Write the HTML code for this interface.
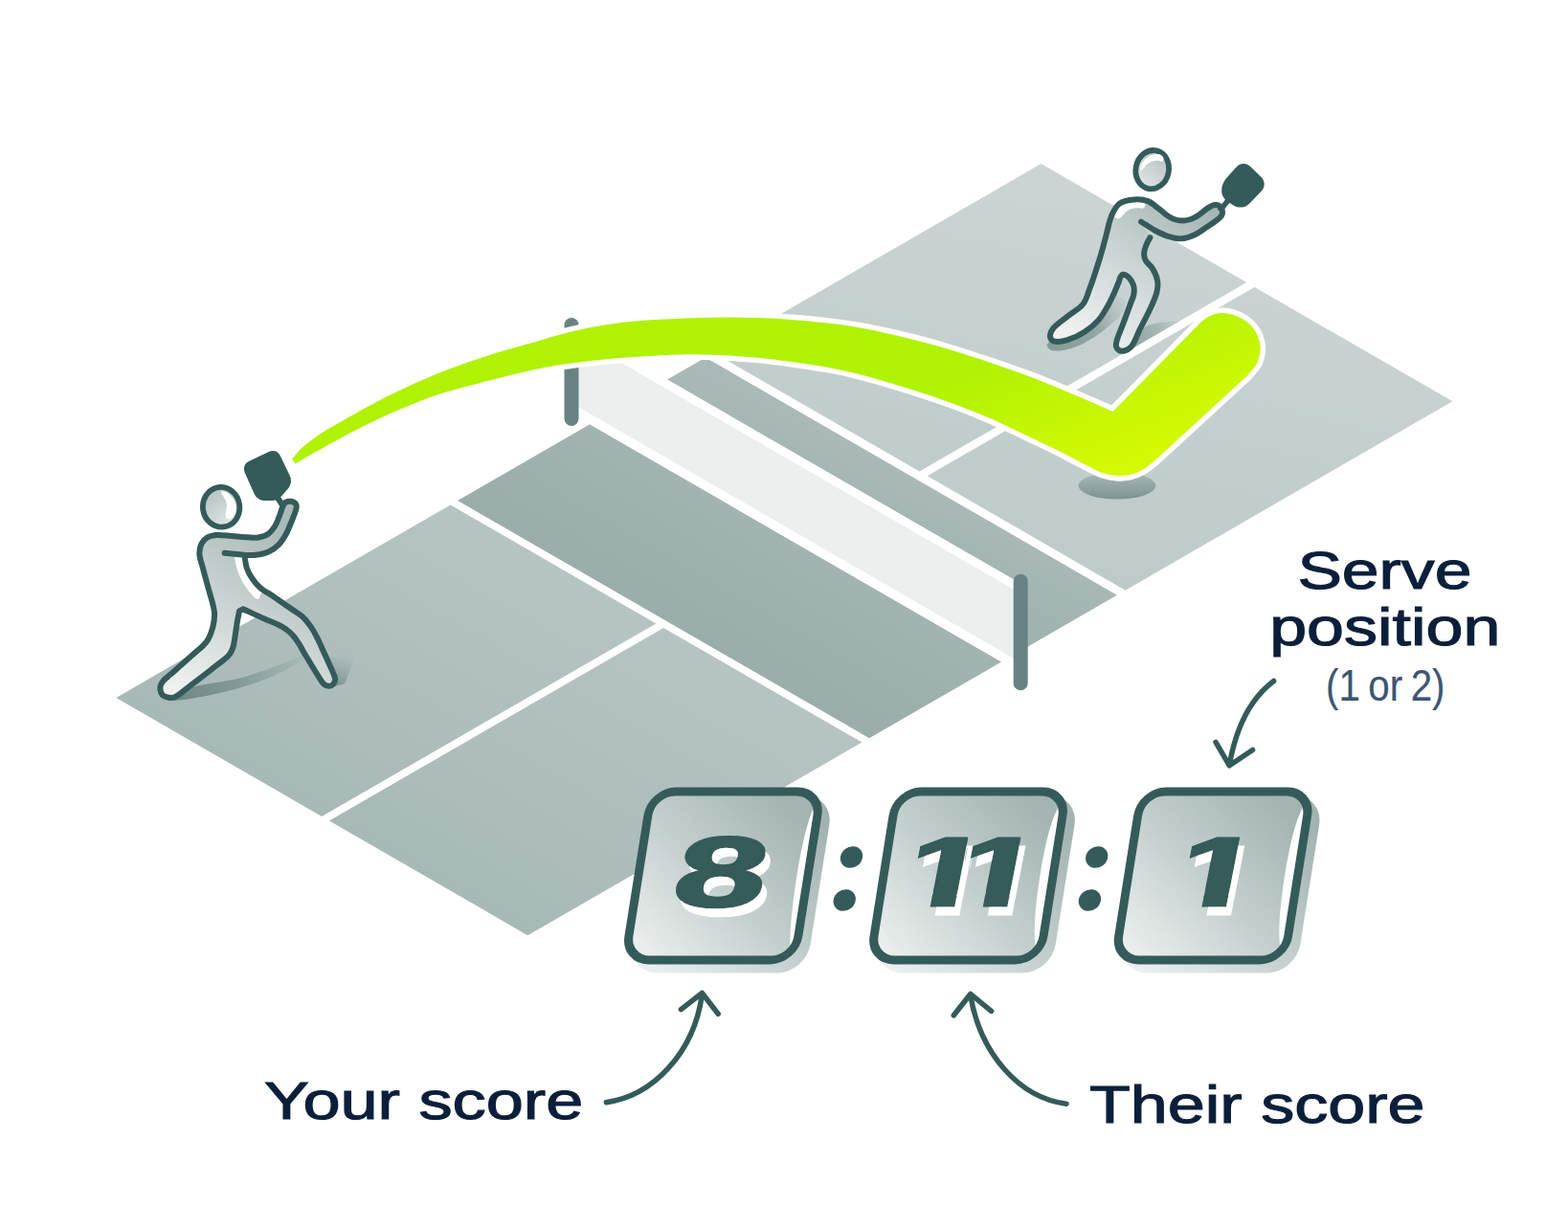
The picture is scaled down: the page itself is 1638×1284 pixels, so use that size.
<!DOCTYPE html>
<html lang="en"><head><meta charset="utf-8"><title>Pickleball scoring</title>
<style>html,body{margin:0;padding:0;background:#fff}svg{display:block}text{font-kerning:normal}</style></head>
<body>
<svg width="1638" height="1284" viewBox="0 0 1638 1284">
<rect width="1638" height="1284" fill="#fff"/>
<defs>
<linearGradient id="gNear" gradientUnits="userSpaceOnUse" x1="560" y1="480" x2="330" y2="880"><stop offset="0" stop-color="#b9c7c5"/><stop offset="1" stop-color="#a6b8b6"/></linearGradient>
<linearGradient id="gKit" gradientUnits="userSpaceOnUse" x1="860" y1="500" x2="720" y2="740"><stop offset="0" stop-color="#a6b7b4"/><stop offset="1" stop-color="#97aaa8"/></linearGradient>
<linearGradient id="gFarKit" gradientUnits="userSpaceOnUse" x1="960" y1="440" x2="900" y2="560"><stop offset="0" stop-color="#adbdbb"/><stop offset="1" stop-color="#a1b3b0"/></linearGradient>
<linearGradient id="gFar" gradientUnits="userSpaceOnUse" x1="1200" y1="180" x2="1100" y2="620"><stop offset="0" stop-color="#ccd5d4"/><stop offset="1" stop-color="#bccac8"/></linearGradient>
<linearGradient id="gArc" gradientUnits="userSpaceOnUse" x1="1100" y1="354.4" x2="1152.5" y2="490.8"><stop offset="0" stop-color="#b0f203"/><stop offset="1" stop-color="#d4f903"/></linearGradient>
<linearGradient id="gBody" gradientUnits="userSpaceOnUse" x1="290" y1="540" x2="190" y2="720"><stop offset="0" stop-color="#a9b9b7"/><stop offset="0.5" stop-color="#c9d3d1"/><stop offset="1" stop-color="#eef1f0"/></linearGradient>
<linearGradient id="gHead" gradientUnits="userSpaceOnUse" x1="220" y1="512" x2="242" y2="550"><stop offset="0" stop-color="#b4c3c1"/><stop offset="1" stop-color="#e4e9e8"/></linearGradient>
<linearGradient id="gBody2" gradientUnits="userSpaceOnUse" x1="1240" y1="200" x2="1130" y2="360"><stop offset="0" stop-color="#a4b5b3"/><stop offset="0.5" stop-color="#cdd6d5"/><stop offset="1" stop-color="#f0f2f2"/></linearGradient>
<linearGradient id="gHead2" gradientUnits="userSpaceOnUse" x1="1214" y1="160" x2="1192" y2="198"><stop offset="0" stop-color="#b4c3c1"/><stop offset="1" stop-color="#e4e9e8"/></linearGradient>
<linearGradient id="gBox" x1="0.85" y1="0.1" x2="0.1" y2="0.95"><stop offset="0" stop-color="#a3b4b1"/><stop offset="0.5" stop-color="#c3cfcd"/><stop offset="1" stop-color="#eaeeed"/></linearGradient>
<linearGradient id="gBoxSh" x1="0.9" y1="0.1" x2="0.1" y2="0.95"><stop offset="0" stop-color="#a2b3b1"/><stop offset="0.5" stop-color="#c5d0ce"/><stop offset="1" stop-color="#ebefee"/></linearGradient>
<linearGradient id="gBall" x1="0" y1="0" x2="0" y2="1"><stop offset="0" stop-color="#a9b9b7"/><stop offset="1" stop-color="#7d9391"/></linearGradient>
<linearGradient id="gSh1" gradientUnits="userSpaceOnUse" x1="185" y1="732" x2="322" y2="682"><stop offset="0" stop-color="#6f8785"/><stop offset="0.45" stop-color="#7d9391" stop-opacity="0.85"/><stop offset="1" stop-color="#8ea2a0" stop-opacity="0.15"/></linearGradient>
<linearGradient id="gSh1b" gradientUnits="userSpaceOnUse" x1="350" y1="720" x2="362" y2="683"><stop offset="0" stop-color="#78908d"/><stop offset="1" stop-color="#8ea2a0" stop-opacity="0"/></linearGradient>
<linearGradient id="gSh2" gradientUnits="userSpaceOnUse" x1="1100" y1="364" x2="1182" y2="316"><stop offset="0" stop-color="#869c99"/><stop offset="0.55" stop-color="#93a7a5"/><stop offset="1" stop-color="#b9c6c4" stop-opacity="0.2"/></linearGradient>
<linearGradient id="gSh2b" gradientUnits="userSpaceOnUse" x1="1182" y1="366" x2="1246" y2="334"><stop offset="0" stop-color="#8da19f"/><stop offset="0.5" stop-color="#a3b4b2" stop-opacity="0.9"/><stop offset="1" stop-color="#c0cbca" stop-opacity="0"/></linearGradient>
<clipPath id="clip1a"><path d="M10,-80 H40.2 V-16 H39.3 V2 H23.8 V-16 H10 Z"/></clipPath>
<clipPath id="clip1b"><path d="M10,-80 H40.2 V-16 H39.3 V2 H23.8 V-16 H10 Z M43.4,-80 H73.6 V-16 H72.7 V2 H57.2 V-16 H43.4 Z"/></clipPath>
<clipPath id="clipFarA"><polygon points="745.7,368.5 1087.5,171.1 1302.3,295.1 960.5,492.5"/></clipPath>
<clipPath id="clipNearA"><polygon points="121.3,729.0 470.6,527.4 685.3,651.4 336.1,853.0"/></clipPath>
<filter id="blur2" x="-20%" y="-20%" width="140%" height="140%"><feGaussianBlur stdDeviation="0.7"/></filter>
<filter id="blur3" x="-30%" y="-10%" width="160%" height="120%"><feGaussianBlur stdDeviation="0.5"/></filter>
<filter id="ds" filterUnits="userSpaceOnUse" x="640" y="800" width="760" height="240"><feFlood flood-color="#fff"/><feComposite in2="SourceAlpha" operator="in"/><feOffset dx="5.3" dy="9.3" result="sh"/><feMerge><feMergeNode in="sh"/><feMergeNode in="SourceGraphic"/></feMerge></filter>
<filter id="blur1" x="-20%" y="-20%" width="140%" height="140%"><feGaussianBlur stdDeviation="1.2"/></filter>
</defs>
<polygon points="121.3,729.0 470.6,527.4 685.3,651.4 336.1,853.0" fill="url(#gNear)"/>
<polygon points="343.9,857.5 693.1,655.9 900.5,775.6 551.3,977.2" fill="url(#gNear)"/>
<polygon points="478.1,523.0 616.2,443.2 1046.2,691.5 908.1,771.2" fill="url(#gKit)"/>
<polygon points="636.6,431.5 737.0,373.5 1166.9,621.7 1066.5,679.7" fill="url(#gFarKit)"/>
<polygon points="745.7,368.5 1087.5,171.1 1302.3,295.1 960.5,492.5" fill="url(#gFar)"/>
<polygon points="968.7,497.2 1310.5,299.9 1517.4,419.3 1175.6,616.7" fill="url(#gFar)"/>
<polygon points="585.0,425.2 1066.2,703.0 1066.2,609.5 585.0,331.7" fill="#fff"/>
<polygon points="597.0,421.1 1066.2,692.0 1066.2,620.0 597.0,349.1" fill="#ebefee"/>
<line x1="597" y1="339.5" x2="597" y2="437.5" stroke="#678381" stroke-width="15" stroke-linecap="round"/>
<line x1="1066.2" y1="607.3" x2="1066.2" y2="713.8" stroke="#678381" stroke-width="15" stroke-linecap="round"/>
<ellipse cx="1167" cy="507.5" rx="40.5" ry="14" fill="url(#gBall)"/>
<g clip-path="url(#clipNearA)">
<path d="M176.0,724.0 C186.3,721.5 195.8,718.7 206.9,716.4 C219.6,713.7 234.1,712.6 247.9,709.1 C262.4,705.4 278.8,699.3 291.9,694.4 C302.7,690.4 311.3,686.5 321.0,682.5 L321.0,683.5 C316.2,687.4 312.4,691.4 306.5,695.2 C298.6,700.2 288.2,705.5 277.2,709.8 C264.2,714.9 248.4,719.4 233.3,723.0 C217.7,726.8 195.9,731.1 184.9,731.8 C179.3,732.1 176.3,731.3 172.0,731.0 Z" fill="url(#gSh1)" filter="url(#blur2)"/>
<path d="M340,719 L346,686 L351,687.5 L373.5,680.5 L360,714.5 Z" fill="url(#gSh1b)" filter="url(#blur2)"/>
</g>
<path d="M234.6,577.7 C241.4,578.4 248.3,579.1 255.1,579.8 C259.1,579.8 263.1,580.3 267.1,579.8 C271.3,579.3 276.0,578.6 280.0,576.8 C284.0,575.0 288.0,572.2 291.1,569.1 C294.2,566.0 296.6,562.0 298.8,558.0 C301.2,553.8 303.0,548.9 304.8,544.3 C306.5,539.9 309.0,534.3 309.5,531.1 C309.8,529.4 310.0,528.1 309.3,527.0 C308.5,525.6 305.9,524.2 304.0,523.8 C302.2,523.5 299.9,523.9 298.5,524.7 C297.3,525.4 296.6,526.5 295.8,528.0 C294.5,530.4 293.7,534.5 292.3,538.0 C290.8,541.8 289.2,546.5 287.0,550.0 C285.0,553.1 282.8,556.1 280.0,558.0 C277.2,559.9 273.5,560.9 270.0,561.5 C266.2,562.1 262.3,561.5 258.0,561.3 C253.0,561.1 247.3,560.4 242.0,560.0 C236.7,559.6 230.6,558.5 226.0,559.0 C222.4,559.4 219.1,559.9 216.5,561.5 C214.0,563.0 211.9,565.3 210.5,568.0 C209.0,570.9 208.3,574.7 208.4,578.6 C208.5,583.4 210.9,589.2 212.3,594.8 C213.8,600.9 215.7,607.4 217.4,613.7 C219.1,620.0 221.5,627.4 222.6,632.5 C223.4,635.9 224.0,637.9 224.1,641.2 C224.2,645.3 223.4,650.8 222.3,655.3 C221.2,659.7 219.4,664.4 217.4,667.9 C215.8,670.7 213.8,672.8 211.8,674.9 C210.0,676.8 208.5,677.8 206.2,679.8 C202.6,683.0 196.8,688.1 192.1,692.2 C187.4,696.3 182.0,701.2 178.1,704.6 C175.4,707.0 172.9,708.6 171.1,710.7 C169.7,712.3 168.6,713.9 168.0,715.6 C167.4,717.2 167.2,718.9 167.4,720.6 C167.7,722.4 168.3,724.8 169.7,726.2 C171.1,727.6 173.9,728.5 176.0,728.8 C178.1,729.1 180.7,728.8 182.3,728.3 C183.5,728.0 183.9,727.7 185.1,726.9 C188.0,725.1 194.4,719.7 199.1,716.1 C203.8,712.5 208.5,708.9 213.2,705.3 C217.9,701.7 223.3,697.4 227.2,694.4 C229.9,692.3 232.0,690.9 234.2,689.0 C236.3,687.2 238.4,685.5 239.9,683.4 C241.4,681.3 242.5,679.0 243.4,676.3 C244.5,673.1 244.8,669.0 245.5,665.1 C246.2,660.7 246.8,655.6 247.6,651.1 C248.3,646.8 249.2,642.6 250.0,638.4 C251.3,637.7 252.6,637.0 253.9,636.3 C261.4,639.7 269.8,643.7 276.4,646.6 C281.6,648.9 286.4,650.5 290.4,652.5 C293.6,654.1 296.2,655.5 298.8,657.4 C301.4,659.3 303.7,661.2 305.9,663.7 C308.4,666.5 310.8,670.2 312.9,673.5 C315.0,676.7 316.0,679.3 318.5,683.4 C322.8,690.6 333.4,708.5 336.7,712.8 C337.7,714.1 337.9,714.6 338.9,715.2 C340.1,716.0 342.2,716.9 343.8,716.8 C345.3,716.7 347.0,716.0 348.0,715.0 C349.1,713.9 349.9,711.5 350.1,710.0 C350.2,708.8 349.9,708.1 349.4,706.5 C348.0,702.2 342.7,691.2 339.5,684.1 C336.6,677.7 333.9,671.2 331.1,665.8 C328.8,661.3 326.7,657.6 324.1,653.9 C321.6,650.3 318.9,646.9 315.7,644.0 C312.4,641.0 308.4,639.0 304.5,636.3 C300.1,633.2 294.1,629.1 290.4,626.5 C287.9,624.8 286.7,623.9 284.3,622.3 C280.8,619.9 275.1,617.0 271.4,613.7 C268.0,610.6 265.1,607.0 262.8,603.4 C260.6,600.1 258.9,596.8 257.7,593.1 C256.4,589.1 256.1,584.4 255.3,580.0 " fill="url(#gBody)"/>
<path d="M245,581 C245.6,590 249,600.5 254.2,609.2 C257.6,615 262,620.5 266.2,624.6 C269,627 271.6,625.6 271.6,622.5 L274,616 L262,600 L256,581 Z" fill="#fff"/>
<path d="M234.6,577.7 C241.4,578.4 248.3,579.1 255.1,579.8 C259.1,579.8 263.1,580.3 267.1,579.8 C271.3,579.3 276.0,578.6 280.0,576.8 C284.0,575.0 288.0,572.2 291.1,569.1 C294.2,566.0 296.6,562.0 298.8,558.0 C301.2,553.8 303.0,548.9 304.8,544.3 C306.5,539.9 309.0,534.3 309.5,531.1 C309.8,529.4 310.0,528.1 309.3,527.0 C308.5,525.6 305.9,524.2 304.0,523.8 C302.2,523.5 299.9,523.9 298.5,524.7 C297.3,525.4 296.6,526.5 295.8,528.0 C294.5,530.4 293.7,534.5 292.3,538.0 C290.8,541.8 289.2,546.5 287.0,550.0 C285.0,553.1 282.8,556.1 280.0,558.0 C277.2,559.9 273.5,560.9 270.0,561.5 C266.2,562.1 262.3,561.5 258.0,561.3 C253.0,561.1 247.3,560.4 242.0,560.0 C236.7,559.6 230.6,558.5 226.0,559.0 C222.4,559.4 219.1,559.9 216.5,561.5 C214.0,563.0 211.9,565.3 210.5,568.0 C209.0,570.9 208.3,574.7 208.4,578.6 C208.5,583.4 210.9,589.2 212.3,594.8 C213.8,600.9 215.7,607.4 217.4,613.7 C219.1,620.0 221.5,627.4 222.6,632.5 C223.4,635.9 224.0,637.9 224.1,641.2 C224.2,645.3 223.4,650.8 222.3,655.3 C221.2,659.7 219.4,664.4 217.4,667.9 C215.8,670.7 213.8,672.8 211.8,674.9 C210.0,676.8 208.5,677.8 206.2,679.8 C202.6,683.0 196.8,688.1 192.1,692.2 C187.4,696.3 182.0,701.2 178.1,704.6 C175.4,707.0 172.9,708.6 171.1,710.7 C169.7,712.3 168.6,713.9 168.0,715.6 C167.4,717.2 167.2,718.9 167.4,720.6 C167.7,722.4 168.3,724.8 169.7,726.2 C171.1,727.6 173.9,728.5 176.0,728.8 C178.1,729.1 180.7,728.8 182.3,728.3 C183.5,728.0 183.9,727.7 185.1,726.9 C188.0,725.1 194.4,719.7 199.1,716.1 C203.8,712.5 208.5,708.9 213.2,705.3 C217.9,701.7 223.3,697.4 227.2,694.4 C229.9,692.3 232.0,690.9 234.2,689.0 C236.3,687.2 238.4,685.5 239.9,683.4 C241.4,681.3 242.5,679.0 243.4,676.3 C244.5,673.1 244.8,669.0 245.5,665.1 C246.2,660.7 246.8,655.6 247.6,651.1 C248.3,646.8 249.2,642.6 250.0,638.4 C251.3,637.7 252.6,637.0 253.9,636.3 C261.4,639.7 269.8,643.7 276.4,646.6 C281.6,648.9 286.4,650.5 290.4,652.5 C293.6,654.1 296.2,655.5 298.8,657.4 C301.4,659.3 303.7,661.2 305.9,663.7 C308.4,666.5 310.8,670.2 312.9,673.5 C315.0,676.7 316.0,679.3 318.5,683.4 C322.8,690.6 333.4,708.5 336.7,712.8 C337.7,714.1 337.9,714.6 338.9,715.2 C340.1,716.0 342.2,716.9 343.8,716.8 C345.3,716.7 347.0,716.0 348.0,715.0 C349.1,713.9 349.9,711.5 350.1,710.0 C350.2,708.8 349.9,708.1 349.4,706.5 C348.0,702.2 342.7,691.2 339.5,684.1 C336.6,677.7 333.9,671.2 331.1,665.8 C328.8,661.3 326.7,657.6 324.1,653.9 C321.6,650.3 318.9,646.9 315.7,644.0 C312.4,641.0 308.4,639.0 304.5,636.3 C300.1,633.2 294.1,629.1 290.4,626.5 C287.9,624.8 286.7,623.9 284.3,622.3 C280.8,619.9 275.1,617.0 271.4,613.7 C268.0,610.6 265.1,607.0 262.8,603.4 C260.6,600.1 258.9,596.8 257.7,593.1 C256.4,589.1 256.1,584.4 255.3,580.0 " fill="none" stroke="#345b59" stroke-width="6" stroke-linecap="round" stroke-linejoin="round"/>
<ellipse cx="231.1" cy="529.8" rx="19.2" ry="20.9" transform="rotate(-8 231.1 529.8)" fill="url(#gHead)" stroke="#345b59" stroke-width="5.8"/>
<path d="M231,513.5 C236,511.5 246,520 246.5,531 C247,538 243,542 238.5,542.5 C234,540 236,536 237,530 C238,522 231,518 231,513.5 Z" fill="#fff"/>
<path d="M255.8,493.9 C253.7,489.0 255.4,484.1 260.3,481.8 L280.8,472.0 C285.7,469.7 290.5,471.3 292.8,476.2 L302.8,497.1 C304.9,501.4 304.2,506.7 301.1,510.3 L294.0,518.5 C291.7,521.2 287.7,523.0 284.1,523.0 L276.7,523.0 C271.9,523.0 267.4,520.1 265.5,515.7 Z" fill="#345b59"/>
<line x1="290" y1="520" x2="296.5" y2="530" stroke="#345b59" stroke-width="6"/>
<g clip-path="url(#clipFarA)">
<path d="M1093.5,360 C1094,365 1099,367 1105.7,366.5 C1113,366 1120,364 1126.7,361.2 C1135,357.5 1143,352.5 1150.1,347.2 C1157,342 1163,337 1168.8,331.8 L1173.5,324.8 L1177,314 L1161.8,305 L1110,340 Z" fill="url(#gSh2)" filter="url(#blur2)"/>
<path d="M1174,372 L1186,350 C1192,343 1200,339 1208.5,337.5 C1220,335.5 1235,335.5 1252,336 L1190,372 Z" fill="url(#gSh2b)" filter="url(#blur2)"/>
</g>
<path d="M1192.1,231.7 C1196.8,234.6 1201.3,237.9 1206.1,240.5 C1210.7,243.0 1215.3,245.4 1220.1,246.9 C1224.7,248.3 1229.5,249.6 1234.1,249.3 C1238.8,249.0 1243.8,247.2 1248.2,245.2 C1252.7,243.1 1256.9,239.8 1261.0,237.0 C1265.0,234.3 1270.0,231.2 1272.7,228.8 C1274.4,227.3 1275.9,226.2 1276.5,224.5 C1277.1,222.9 1277.1,220.6 1276.5,219.0 C1275.9,217.4 1274.5,215.5 1273.0,214.7 C1271.6,213.9 1269.7,213.9 1268.0,214.2 C1266.1,214.6 1264.5,215.7 1262.2,217.1 C1258.5,219.3 1253.0,224.8 1248.2,227.1 C1244.0,229.1 1239.6,230.6 1235.3,230.6 C1231.0,230.6 1226.4,229.1 1222.4,227.1 C1218.2,225.0 1214.7,221.1 1210.8,218.3 C1206.9,215.5 1203.4,211.7 1199.1,210.1 C1194.8,208.5 1189.8,208.1 1185.1,208.4 C1180.1,208.7 1173.8,209.7 1169.9,212.4 C1166.1,215.0 1163.9,219.4 1161.7,224.1 C1158.9,230.1 1157.3,239.4 1155.5,246.0 C1154.0,251.5 1152.8,256.2 1151.5,261.0 C1150.3,265.3 1149.4,268.5 1147.8,273.4 C1145.4,280.9 1141.5,293.4 1138.4,301.4 C1136.0,307.6 1135.0,313.1 1131.4,317.8 C1127.5,322.9 1120.4,326.3 1115.1,330.6 C1109.9,334.8 1102.8,339.5 1099.9,343.5 C1098.1,346.0 1097.0,348.4 1097.0,350.5 C1097.0,352.3 1097.8,354.4 1099.0,355.5 C1100.2,356.6 1102.0,356.9 1104.0,357.0 C1107.0,357.2 1111.1,356.4 1115.1,355.2 C1120.4,353.6 1127.2,350.5 1132.6,347.0 C1138.1,343.5 1143.4,339.2 1147.8,334.1 C1152.4,328.7 1156.0,321.9 1159.5,315.4 C1163.0,308.7 1167.0,299.1 1168.8,294.4 C1169.7,292.1 1169.7,290.4 1170.6,289.1 C1171.3,288.1 1172.2,287.0 1173.2,286.8 C1174.3,286.6 1175.8,287.2 1177.0,288.0 C1178.6,289.0 1180.4,291.2 1181.7,293.2 C1183.0,295.3 1184.2,297.7 1184.6,300.2 C1185.0,302.8 1184.7,305.8 1184.2,308.4 C1183.7,310.9 1182.8,312.4 1181.7,315.4 C1179.8,320.7 1176.1,330.5 1173.5,337.6 C1171.1,344.1 1167.5,351.8 1166.5,356.3 C1166.0,358.7 1165.5,360.3 1166.0,362.0 C1166.4,363.5 1167.6,365.2 1169.0,366.0 C1170.5,366.8 1172.7,366.9 1174.6,366.5 C1176.9,366.0 1179.5,364.6 1181.7,362.2 C1185.2,358.4 1187.7,350.1 1191.0,343.5 C1194.7,336.1 1199.6,327.1 1202.7,320.1 C1205.1,314.6 1207.5,309.7 1208.5,304.9 C1209.4,300.8 1209.8,297.1 1209.1,293.2 C1208.4,288.9 1206.1,284.0 1203.9,280.4 C1201.9,277.2 1198.2,275.0 1196.8,272.2 C1195.6,269.9 1195.1,267.6 1195.1,265.2 C1195.1,262.6 1196.0,259.7 1197.0,257.0 C1198.1,254.0 1199.9,251.1 1201.4,248.1 " fill="url(#gBody2)"/>
<path d="M1164,224 C1168,215 1177,209 1187,209 L1196,212 C1197,215.5 1195.5,218 1192.5,217.8 C1186,216.5 1180,218 1176,221.5 C1173.5,224 1172,227 1169.5,228.3 C1166.5,229 1164.5,227.5 1164,224 Z" fill="#fff"/>
<path d="M1192.1,231.7 C1196.8,234.6 1201.3,237.9 1206.1,240.5 C1210.7,243.0 1215.3,245.4 1220.1,246.9 C1224.7,248.3 1229.5,249.6 1234.1,249.3 C1238.8,249.0 1243.8,247.2 1248.2,245.2 C1252.7,243.1 1256.9,239.8 1261.0,237.0 C1265.0,234.3 1270.0,231.2 1272.7,228.8 C1274.4,227.3 1275.9,226.2 1276.5,224.5 C1277.1,222.9 1277.1,220.6 1276.5,219.0 C1275.9,217.4 1274.5,215.5 1273.0,214.7 C1271.6,213.9 1269.7,213.9 1268.0,214.2 C1266.1,214.6 1264.5,215.7 1262.2,217.1 C1258.5,219.3 1253.0,224.8 1248.2,227.1 C1244.0,229.1 1239.6,230.6 1235.3,230.6 C1231.0,230.6 1226.4,229.1 1222.4,227.1 C1218.2,225.0 1214.7,221.1 1210.8,218.3 C1206.9,215.5 1203.4,211.7 1199.1,210.1 C1194.8,208.5 1189.8,208.1 1185.1,208.4 C1180.1,208.7 1173.8,209.7 1169.9,212.4 C1166.1,215.0 1163.9,219.4 1161.7,224.1 C1158.9,230.1 1157.3,239.4 1155.5,246.0 C1154.0,251.5 1152.8,256.2 1151.5,261.0 C1150.3,265.3 1149.4,268.5 1147.8,273.4 C1145.4,280.9 1141.5,293.4 1138.4,301.4 C1136.0,307.6 1135.0,313.1 1131.4,317.8 C1127.5,322.9 1120.4,326.3 1115.1,330.6 C1109.9,334.8 1102.8,339.5 1099.9,343.5 C1098.1,346.0 1097.0,348.4 1097.0,350.5 C1097.0,352.3 1097.8,354.4 1099.0,355.5 C1100.2,356.6 1102.0,356.9 1104.0,357.0 C1107.0,357.2 1111.1,356.4 1115.1,355.2 C1120.4,353.6 1127.2,350.5 1132.6,347.0 C1138.1,343.5 1143.4,339.2 1147.8,334.1 C1152.4,328.7 1156.0,321.9 1159.5,315.4 C1163.0,308.7 1167.0,299.1 1168.8,294.4 C1169.7,292.1 1169.7,290.4 1170.6,289.1 C1171.3,288.1 1172.2,287.0 1173.2,286.8 C1174.3,286.6 1175.8,287.2 1177.0,288.0 C1178.6,289.0 1180.4,291.2 1181.7,293.2 C1183.0,295.3 1184.2,297.7 1184.6,300.2 C1185.0,302.8 1184.7,305.8 1184.2,308.4 C1183.7,310.9 1182.8,312.4 1181.7,315.4 C1179.8,320.7 1176.1,330.5 1173.5,337.6 C1171.1,344.1 1167.5,351.8 1166.5,356.3 C1166.0,358.7 1165.5,360.3 1166.0,362.0 C1166.4,363.5 1167.6,365.2 1169.0,366.0 C1170.5,366.8 1172.7,366.9 1174.6,366.5 C1176.9,366.0 1179.5,364.6 1181.7,362.2 C1185.2,358.4 1187.7,350.1 1191.0,343.5 C1194.7,336.1 1199.6,327.1 1202.7,320.1 C1205.1,314.6 1207.5,309.7 1208.5,304.9 C1209.4,300.8 1209.8,297.1 1209.1,293.2 C1208.4,288.9 1206.1,284.0 1203.9,280.4 C1201.9,277.2 1198.2,275.0 1196.8,272.2 C1195.6,269.9 1195.1,267.6 1195.1,265.2 C1195.1,262.6 1196.0,259.7 1197.0,257.0 C1198.1,254.0 1199.9,251.1 1201.4,248.1 " fill="none" stroke="#345b59" stroke-width="6" stroke-linecap="round" stroke-linejoin="round"/>
<ellipse cx="1203.7" cy="177.2" rx="17.2" ry="20.3" transform="rotate(12 1203.7 177.2)" fill="url(#gHead2)" stroke="#345b59" stroke-width="5.8"/>
<path d="M1191,178 C1192,168 1200,160.5 1210,161 C1216,162 1217,167 1214,169 C1210,167 1204,167.5 1199,171 C1195,174 1194,179 1191,178 Z" fill="#fff"/>
<path d="M1276.2,199.0 C1276.1,194.8 1277.9,189.9 1280.6,186.7 L1291.1,174.9 C1295.5,169.9 1301.6,169.6 1306.4,174.2 L1317.0,184.4 C1321.8,189.0 1322.0,195.2 1317.4,199.9 L1305.4,212.4 C1300.8,217.1 1294.1,218.0 1288.5,214.4 L1282.3,210.5 C1278.8,208.3 1276.3,204.0 1276.2,199.8 Z" fill="#345b59"/>
<line x1="1286" y1="205.5" x2="1274" y2="220.5" stroke="#345b59" stroke-width="5.5"/>
<path d="M305.1,479.6 C308.6,475.6 311.7,471.4 315.6,467.7 C319.5,464.0 324.1,460.6 328.5,457.4 C332.7,454.4 336.3,452.2 341.3,449.1 C348.3,444.8 358.3,439.2 366.9,434.4 C375.4,429.6 384.0,424.8 392.6,420.3 C401.1,415.8 409.6,411.5 418.2,407.4 C426.7,403.4 435.2,399.5 443.8,395.9 C452.3,392.3 460.5,389.0 469.5,385.6 C479.2,381.9 489.8,378.1 500.0,374.7 C510.0,371.3 520.0,368.3 530.0,365.3 C540.0,362.4 549.5,359.9 560.0,357.0 C571.6,353.7 584.3,349.6 596.6,346.6 C608.8,343.7 621.0,341.2 633.3,339.3 C645.5,337.4 657.3,336.1 669.9,335.0 C683.2,333.8 697.2,333.3 711.0,332.7 C725.0,332.1 739.7,331.6 753.3,331.5 C765.9,331.4 777.7,331.6 789.9,332.0 C802.1,332.4 813.8,333.0 826.5,333.9 C840.2,334.9 856.4,336.5 869.3,338.1 C880.0,339.4 888.9,340.8 898.6,342.5 C908.4,344.2 918.2,346.3 927.9,348.4 C937.7,350.6 947.5,352.9 957.2,355.4 C967.0,357.9 976.8,360.6 986.5,363.5 C996.3,366.4 1006.0,369.5 1015.8,372.7 C1025.6,375.9 1034.9,379.0 1045.1,382.5 C1056.2,386.4 1068.0,390.4 1080.0,395.0 C1092.9,400.0 1106.5,405.8 1120.0,411.5 C1134.0,417.4 1148.3,423.8 1162.5,429.9 L1253.6,337.4 C1257.4,334.8 1260.9,331.2 1265.0,329.5 C1268.9,327.9 1273.0,326.9 1277.6,327.1 C1283.3,327.3 1291.0,329.3 1296.5,332.3 C1301.8,335.2 1306.9,339.5 1310.2,344.3 C1313.5,349.2 1316.0,355.6 1316.5,361.4 C1317.0,367.0 1315.8,373.4 1313.6,378.5 C1311.4,383.6 1306.7,387.6 1303.3,392.2 L1205.6,481.9 C1201.6,484.8 1198.0,488.3 1193.7,490.7 C1189.4,493.1 1184.6,495.1 1179.9,496.1 C1175.4,497.1 1170.7,497.3 1166.2,497.0 C1161.6,496.7 1157.1,495.8 1152.5,494.3 C1147.4,492.7 1142.8,490.1 1137.1,487.3 C1129.6,483.6 1120.4,478.4 1111.4,473.8 C1101.5,468.8 1090.8,463.7 1080.0,458.5 C1068.7,453.1 1056.3,446.9 1045.1,441.9 C1035.0,437.3 1025.6,433.3 1015.8,429.4 C1006.1,425.5 996.3,421.9 986.5,418.4 C976.8,414.9 967.0,411.7 957.2,408.5 C947.5,405.3 937.7,402.3 927.9,399.4 C918.2,396.5 908.4,393.8 898.6,391.3 C888.9,388.9 880.0,386.7 869.3,384.7 C856.4,382.3 840.2,380.0 826.5,378.1 C813.8,376.3 802.1,374.8 789.9,373.6 C777.7,372.4 765.9,371.6 753.3,371.1 C739.7,370.5 725.0,370.2 711.0,370.4 C697.2,370.6 683.2,371.7 669.9,372.5 C657.3,373.3 645.5,374.1 633.3,375.3 C621.1,376.5 608.8,377.9 596.6,379.6 C584.4,381.3 571.6,383.4 560.0,385.7 C549.5,387.8 540.0,390.3 530.0,392.7 C520.0,395.2 508.7,398.2 500.0,400.4 C493.3,402.1 488.7,403.1 482.3,404.9 C474.5,407.1 465.2,409.7 456.7,412.6 C448.1,415.5 439.5,418.8 431.0,422.2 C422.4,425.6 413.9,429.3 405.4,433.1 C396.8,437.0 388.2,441.1 379.7,445.3 C371.1,449.6 362.6,454.1 354.1,458.7 C345.5,463.3 336.5,468.3 328.5,472.8 C321.4,476.8 315.2,480.5 308.6,484.4 Z" fill="url(#gArc)" stroke="#fff" stroke-width="11" stroke-linejoin="miter" paint-order="stroke"/>
<g transform="translate(755.40 915.0) skewX(-9)">
<rect x="-83" y="-83.5" width="185.5" height="185" rx="30" fill="url(#gBoxSh)"/>
<rect x="-88.5" y="-88" width="177" height="176" rx="25" fill="url(#gBox)"/>
<path d="M85,-75 C80.5,-68 77.5,-40 77.0,-10 C76.8,20 77.5,52 82,75 L87,75 L87,-75 Z" fill="#fff"/>
<rect x="-88.5" y="-88" width="177" height="176" rx="25" fill="none" stroke="#345b59" stroke-width="9"/>
</g>
<g filter="url(#ds)"><text transform="translate(699.0 946.9) skewX(-11) scale(1.665 1)" x="0" y="0" font-family="'Liberation Sans', sans-serif" font-weight="bold" font-size="104.0" fill="#345b59" stroke="#345b59" stroke-width="2.6" stroke-linejoin="round">8</text></g>
<g transform="translate(1011.55 915.0) skewX(-9)">
<rect x="-83" y="-83.5" width="185.5" height="185" rx="30" fill="url(#gBoxSh)"/>
<rect x="-88.5" y="-88" width="177" height="176" rx="25" fill="url(#gBox)"/>
<path d="M85,-75 C78.4,-68 75.4,-40 74.9,-10 C74.7,20 75.4,52 82,75 L87,75 L87,-75 Z" fill="#fff"/>
<rect x="-88.5" y="-88" width="177" height="176" rx="25" fill="none" stroke="#345b59" stroke-width="9"/>
</g>
<g filter="url(#ds)"><text transform="translate(932.5 946.7) skewX(-11) scale(1.650 1)" x="0 33.4" y="0" font-family="'Liberation Sans', sans-serif" font-weight="bold" font-size="104.6" fill="#345b59" stroke="#345b59" stroke-width="1.2" stroke-linejoin="round" clip-path="url(#clip1b)">11</text></g>
<g transform="translate(1267.15 915.0) skewX(-9)">
<rect x="-83" y="-83.5" width="185.5" height="185" rx="30" fill="url(#gBoxSh)"/>
<rect x="-88.5" y="-88" width="177" height="176" rx="25" fill="url(#gBox)"/>
<path d="M85,-75 C78.4,-68 75.4,-40 74.9,-10 C74.7,20 75.4,52 82,75 L87,75 L87,-75 Z" fill="#fff"/>
<rect x="-88.5" y="-88" width="177" height="176" rx="25" fill="none" stroke="#345b59" stroke-width="9"/>
</g>
<g filter="url(#ds)"><text transform="translate(1216.3 946.7) skewX(-11) scale(1.650 1)" x="0" y="0" font-family="'Liberation Sans', sans-serif" font-weight="bold" font-size="104.6" fill="#345b59" stroke="#345b59" stroke-width="1.2" stroke-linejoin="round" clip-path="url(#clip1a)">1</text></g>
<ellipse cx="889.5" cy="895.5" rx="12.2" ry="10.7" fill="#345b59" transform="rotate(-38 889.5 895.5)"/>
<ellipse cx="882.2" cy="940.5" rx="12.2" ry="10.7" fill="#345b59" transform="rotate(-38 882.2 940.5)"/>
<ellipse cx="1145.7" cy="895.5" rx="12.2" ry="10.7" fill="#345b59" transform="rotate(-38 1145.7 895.5)"/>
<ellipse cx="1138.4" cy="940.5" rx="12.2" ry="10.7" fill="#345b59" transform="rotate(-38 1138.4 940.5)"/>
<path d="M633.3,1151.7 C682,1145 725,1100 733.4,1039" fill="none" stroke="#345b59" stroke-width="5.5" stroke-linecap="round" stroke-linejoin="round"/>
<path d="M711.4,1054.6 L733.4,1037.5 L750.2,1059.3" fill="none" stroke="#345b59" stroke-width="5.5" stroke-linecap="round" stroke-linejoin="round"/>
<path d="M1114,1153.2 C1064,1147 1024,1100 1013.8,1040" fill="none" stroke="#345b59" stroke-width="5.5" stroke-linecap="round" stroke-linejoin="round"/>
<path d="M996.3,1060.8 L1013.8,1038.5 L1035.6,1056.3" fill="none" stroke="#345b59" stroke-width="5.5" stroke-linecap="round" stroke-linejoin="round"/>
<path d="M1330.6,711.5 C1306,730 1291,762 1284.5,798" fill="none" stroke="#345b59" stroke-width="5.5" stroke-linecap="round" stroke-linejoin="round"/>
<path d="M1270,775.3 L1284.3,799.8 L1308.6,783.5" fill="none" stroke="#345b59" stroke-width="5.5" stroke-linecap="round" stroke-linejoin="round"/>
<text x="1355.4" y="614.6" font-family="'Liberation Sans', sans-serif" font-size="55" fill="#0b1f3b" stroke="#0b1f3b" stroke-width="1.1" textLength="182.0" lengthAdjust="spacingAndGlyphs">Serve</text>
<text x="1326.2" y="674.0" font-family="'Liberation Sans', sans-serif" font-size="55" fill="#0b1f3b" stroke="#0b1f3b" stroke-width="1.1" textLength="241.2" lengthAdjust="spacingAndGlyphs">position</text>
<text word-spacing="-3" x="1385.0" y="731.7" font-family="'Liberation Sans', sans-serif" font-size="46" fill="#3b5573" stroke="#3b5573" stroke-width="0.2" textLength="124.5" lengthAdjust="spacingAndGlyphs">(1 or 2)</text>
<text x="276.0" y="1169.4" font-family="'Liberation Sans', sans-serif" font-size="55" fill="#0b1f3b" stroke="#0b1f3b" stroke-width="1.1" textLength="333.2" lengthAdjust="spacingAndGlyphs">Your score</text>
<text x="1138.0" y="1173.3" font-family="'Liberation Sans', sans-serif" font-size="55" fill="#0b1f3b" stroke="#0b1f3b" stroke-width="1.1" textLength="350.6" lengthAdjust="spacingAndGlyphs">Their score</text>
</svg>
</body></html>
